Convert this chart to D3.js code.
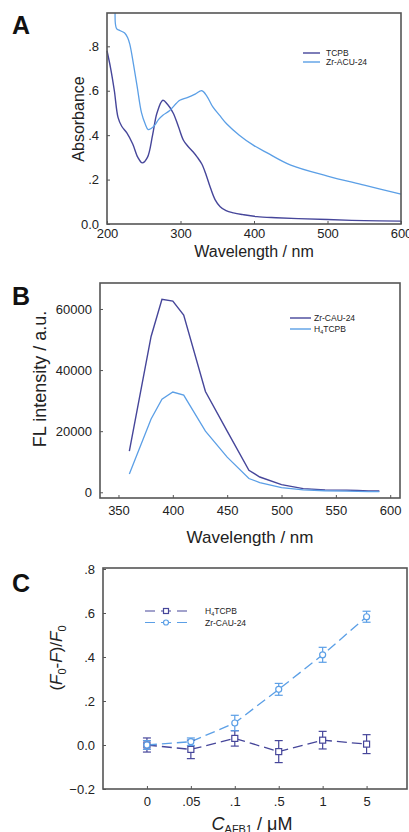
<!DOCTYPE html>
<html><head><meta charset="utf-8">
<script src="https://cdn.jsdelivr.net/npm/d3@7"></script>
<style>body{margin:0;background:#fff;} svg{display:block;font-family:"Liberation Sans",Arial,sans-serif;}</style>
</head><body>
<svg id="c" width="409" height="832"></svg>
<script>
// ---------- Data ----------
// Panel A: UV-vis absorbance
const absWave_TCPB = [200,205,210,215,220,227,235,242,248,255,262,268,276,282,290,297,304,310,317,323,329,335,340,347,354,362,372,385,404,430,460,500,550,600];
const absVal_TCPB  = [0.78,0.70,0.60,0.48,0.44,0.41,0.36,0.30,0.275,0.30,0.40,0.50,0.557,0.54,0.50,0.44,0.377,0.35,0.325,0.30,0.27,0.22,0.17,0.11,0.078,0.06,0.05,0.042,0.033,0.028,0.024,0.02,0.015,0.013];
const absWave_Zr = [211,213,218,224,228,231,236,241,247,252,256,260,265,270,276,285,299,310,320,329,336,344,353,363,380,399,418,450,500,550,600];
const absVal_Zr  = [0.95,0.88,0.87,0.86,0.84,0.81,0.72,0.62,0.50,0.45,0.425,0.43,0.445,0.47,0.49,0.51,0.557,0.57,0.585,0.60,0.575,0.527,0.49,0.45,0.40,0.355,0.32,0.265,0.216,0.175,0.134];
// Panel B: fluorescence
const flWave = [360,380,390,400,410,430,450,470,480,500,520,540,560,570,580,590];
const fl_Zr  = [13500,51000,63200,62600,58000,33000,20000,7200,5000,2500,1200,800,700,600,400,400];
const fl_H4  = [6000,24000,30500,32800,31800,20000,11500,4500,3200,1500,800,500,400,300,200,200];
// Panel C: response vs concentration
const concLabels = ["0",".05",".1",".5","1","5"];
const resp_H4 = [0.00,-0.02,0.03,-0.03,0.022,0.004];
const err_H4  = [0.032,0.042,0.035,0.05,0.04,0.043];
const resp_Zr = [0.00,0.015,0.10,0.253,0.41,0.583];
const err_Zr  = [0.02,0.017,0.035,0.027,0.034,0.025];
const ticksA_y = [0,0.2,0.4,0.6,0.8];
const ticksA_x = [200,300,400,500,600];
const ticksB_y = [0,20000,40000,60000];
const ticksB_x = [350,400,450,500,550,600];
const ticksC_y = [-0.2,0,0.2,0.4,0.6,0.8];

const DARK = "#46469a", LIGHT = "#5b9fe6", FRAME = "#555";
const svg = d3.select("#c");
const fmtDec = v => { if (Math.abs(v) < 1e-9) return "0.0"; let s = d3.format(".1f")(v); return s.replace(/^(-?)0\./, "$1."); };

function frame(x0,x1,y0,y1){
  svg.append("rect").attr("x",x0).attr("y",y0).attr("width",x1-x0).attr("height",y1-y0)
    .attr("fill","none").attr("stroke",FRAME).attr("stroke-width",1.6);
}
function axes(x, y, xt, yt, yfmt, x0, y1, xfmt, xpad){
  const gx = svg.append("g").attr("transform",`translate(0,${y1})`)
    .call(d3.axisBottom(x).tickValues(xt).tickSize(-3).tickPadding(xpad||8).tickFormat(xfmt||d3.format("d")));
  const gy = svg.append("g").attr("transform",`translate(${x0},0)`)
    .call(d3.axisLeft(y).tickValues(yt).tickSize(-3).tickPadding(8).tickFormat(yfmt));
  [gx,gy].forEach(g=>{ g.select(".domain").remove();
    g.selectAll("line").attr("stroke",FRAME);
    g.selectAll("text").attr("font-size",13).attr("fill","#222").attr("font-family","Liberation Sans, Arial, sans-serif"); });
  return [gx,gy];
}
function letter(t,x,y){ svg.append("text").attr("x",x).attr("y",y).text(t).attr("font-size",25).attr("font-weight","bold").attr("fill","#111"); }

// ---------- Panel A ----------
{
  const x = d3.scaleLinear().domain([200,600]).range([107,401]);
  const y = d3.scaleLinear().domain([0,0.95]).range([224,13]);
  axes(x,y,ticksA_x,ticksA_y,fmtDec,107,224,null,5);
  const line = d3.line().curve(d3.curveCatmullRom).x(d=>x(d[0])).y(d=>y(d[1]));
  svg.append("path").attr("d",line(absWave_TCPB.map((w,i)=>[w,absVal_TCPB[i]]))).attr("fill","none").attr("stroke",DARK).attr("stroke-width",1.4);
  svg.append("path").attr("d",line(absWave_Zr.map((w,i)=>[w,absVal_Zr[i]]))).attr("fill","none").attr("stroke",LIGHT).attr("stroke-width",1.3);
  frame(107,401,13,224);
  letter("A",12,34);
  svg.append("text").attr("x",254).attr("y",257).attr("text-anchor","middle").attr("font-size",16).attr("fill","#222").text("Wavelength / nm");
  svg.append("text").attr("transform","translate(84,119) rotate(-90)").attr("text-anchor","middle").attr("font-size",16).attr("fill","#222").text("Absorbance");
  const leg = [["TCPB",DARK],["Zr-ACU-24",LIGHT]];
  leg.forEach((l,i)=>{
    const yy = 53 + i*9;
    svg.append("line").attr("x1",303).attr("x2",320).attr("y1",yy).attr("y2",yy).attr("stroke",l[1]).attr("stroke-width",1.4);
    svg.append("text").attr("x",326).attr("y",yy+3).attr("font-size",8.5).attr("fill","#222").text(l[0]);
  });
}

// ---------- Panel B ----------
{
  const x = d3.scaleLinear().domain([333,609]).range([100,400]);
  const y = d3.scaleLinear().domain([-1870,68500]).range([498,283]);
  axes(x,y,ticksB_x,ticksB_y,d3.format("d"),100,498);
  const line = d3.line().x((d,i)=>x(flWave[i])).y(d=>y(d));
  svg.append("path").attr("d",line(fl_Zr)).attr("fill","none").attr("stroke",DARK).attr("stroke-width",1.4);
  svg.append("path").attr("d",line(fl_H4)).attr("fill","none").attr("stroke",LIGHT).attr("stroke-width",1.3);
  frame(100,400,283,498);
  letter("B",12,305);
  svg.append("text").attr("x",250).attr("y",543).attr("text-anchor","middle").attr("font-size",17).attr("fill","#222").text("Wavelength / nm");
  svg.append("text").attr("transform","translate(46,379) rotate(-90)").attr("text-anchor","middle").attr("font-size",18).attr("fill","#222").text("FL intensity / a.u.");
  const leg = [["Zr-CAU-24",DARK,null],["H",LIGHT,"TCPB"]];
  leg.forEach((l,i)=>{
    const yy = 318 + i*11;
    svg.append("line").attr("x1",290).attr("x2",311).attr("y1",yy).attr("y2",yy).attr("stroke",l[1]).attr("stroke-width",1.4);
    const t = svg.append("text").attr("x",314).attr("y",yy+3).attr("font-size",8.5).attr("fill","#222").text(l[0]);
    if (l[2]) { t.append("tspan").attr("font-size",5.5).attr("dy",2).text("4"); t.append("tspan").attr("dy",-2).text(l[2]); }
  });
}

// ---------- Panel C ----------
{
  const idx = concLabels.map((d,i)=>i);
  const x = d3.scaleLinear().domain([-1,5.92]).range([103,407]);
  const y = d3.scaleLinear().domain([-0.2,0.8]).range([789,569]);
  axes(x,y,idx,ticksC_y,fmtDec,103,789,i=>concLabels[i]);
  const line = d3.line().x((d,i)=>x(i)).y(d=>y(d));
  const series = [[resp_H4,err_H4,DARK,"sq"],[resp_Zr,err_Zr,LIGHT,"ci"]];
  series.forEach(s=>{
    svg.append("path").attr("d",line(s[0])).attr("fill","none").attr("stroke",s[2]).attr("stroke-width",1.3).attr("stroke-dasharray","10,5");
  });
  series.forEach(s=>{
    const g = svg.append("g").attr("stroke",s[2]).attr("stroke-width",1.2);
    s[0].forEach((v,i)=>{
      const cx = x(i), e = s[1][i];
      g.append("line").attr("x1",cx).attr("x2",cx).attr("y1",y(v+e)).attr("y2",y(v-e));
      g.append("line").attr("x1",cx-4).attr("x2",cx+4).attr("y1",y(v+e)).attr("y2",y(v+e));
      g.append("line").attr("x1",cx-4).attr("x2",cx+4).attr("y1",y(v-e)).attr("y2",y(v-e));
      if (s[3]==="sq") g.append("rect").attr("x",cx-3).attr("y",y(v)-3).attr("width",6).attr("height",6).attr("fill","#fff");
      else g.append("circle").attr("cx",cx).attr("cy",y(v)).attr("r",3).attr("fill","#fff");
    });
  });
  frame(103,407,568,789);
  letter("C",12,592);
  // y title
  const yt = svg.append("text").attr("transform","translate(62,658) rotate(-90)").attr("text-anchor","middle").attr("font-size",17).attr("fill","#222");
  yt.append("tspan").text("(");
  yt.append("tspan").attr("font-style","italic").text("F");
  yt.append("tspan").attr("font-size",11).attr("dy",4).text("0");
  yt.append("tspan").attr("dy",-4).text("-");
  yt.append("tspan").attr("font-style","italic").text("F");
  yt.append("tspan").text(")/");
  yt.append("tspan").attr("font-style","italic").text("F");
  yt.append("tspan").attr("font-size",11).attr("dy",4).text("0");
  // x title
  const xt = svg.append("text").attr("x",252).attr("y",830).attr("text-anchor","middle").attr("font-size",18).attr("fill","#222");
  xt.append("tspan").attr("font-style","italic").text("C");
  xt.append("tspan").attr("font-size",11).attr("dy",3).text("AFB1");
  xt.append("tspan").attr("dy",-3).text(" / μM");
  // legend
  const leg = [["H",DARK,"TCPB","sq"],["Zr-CAU-24",LIGHT,null,"ci"]];
  leg.forEach((l,i)=>{
    const yy = 611 + i*11.5;
    const g = svg.append("g").attr("stroke",l[1]).attr("stroke-width",1.2);
    g.append("line").attr("x1",145).attr("x2",187).attr("y1",yy).attr("y2",yy).attr("stroke-dasharray","10,6");
    if (l[3]==="sq") g.append("rect").attr("x",166-2.5).attr("y",yy-2.5).attr("width",5).attr("height",5).attr("fill","#fff");
    else g.append("circle").attr("cx",166).attr("cy",yy).attr("r",2.5).attr("fill","#fff");
    const t = svg.append("text").attr("x",205).attr("y",yy+3).attr("font-size",8.5).attr("fill","#222").text(l[0]);
    if (l[2]) { t.append("tspan").attr("font-size",5.5).attr("dy",2).text("4"); t.append("tspan").attr("dy",-2).text(l[2]); }
  });
}
</script>
</body></html>
